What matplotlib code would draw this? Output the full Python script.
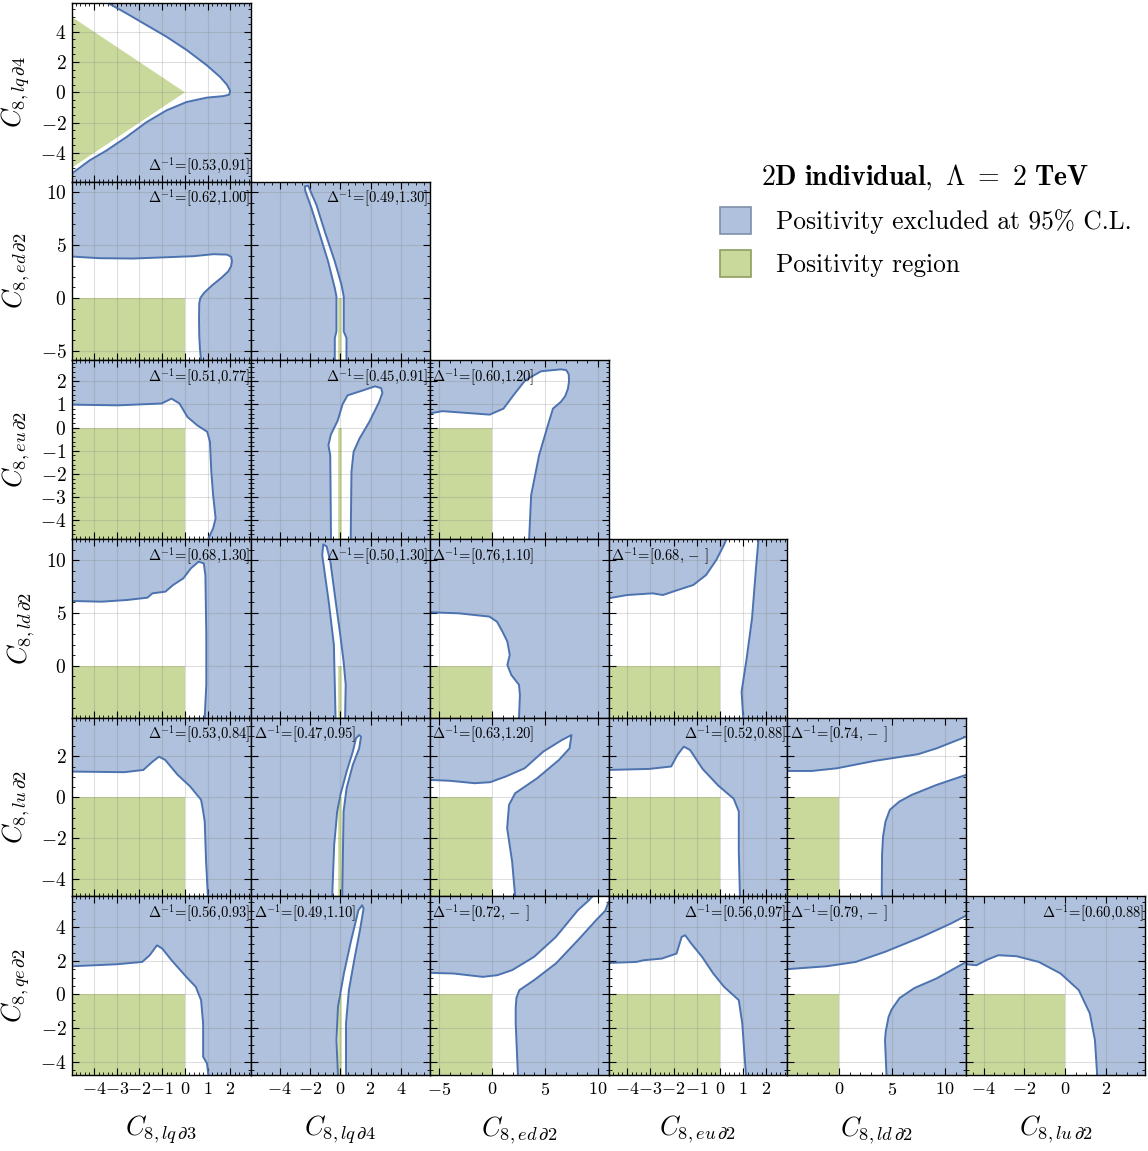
import numpy as np
import matplotlib.pyplot as plt
from matplotlib.patches import Polygon, Rectangle, Patch
from matplotlib.ticker import MultipleLocator, AutoMinorLocator

plt.rcParams.update({
    'font.family': 'serif', 'font.serif': ['cmr10'],
    'mathtext.fontset': 'cm', 'axes.formatter.use_mathtext': True,
    'axes.unicode_minus': True,
})

# operators (x: first six, y: last six), plot ranges, major tick steps
ops = [r'lq\,\partial 3', r'lq\,\partial 4', r'ed\,\partial 2', r'eu\,\partial 2',
       r'ld\,\partial 2', r'lu\,\partial 2', r'qe\,\partial 2']
lims = [(-4.97, 2.9), (-5.9, 5.9), (-5.9, 11.0), (-4.8, 2.9), (-4.9, 12.0),
        (-4.85, 3.9), (-4.8, 5.85)]
steps = [1, 2, 5, 1, 5, 2, 2]

# lower-triangle panels (row, col), row-major
panels = [(0, 0), (1, 0), (1, 1), (2, 0), (2, 1), (2, 2), (3, 0), (3, 1), (3, 2), (3, 3),
          (4, 0), (4, 1), (4, 2), (4, 3), (4, 4), (5, 0), (5, 1), (5, 2), (5, 3), (5, 4), (5, 5)]
delta_lo = [0.53, 0.62, 0.49, 0.51, 0.45, 0.60, 0.68, 0.50, 0.76, 0.68,
            0.53, 0.47, 0.63, 0.52, 0.74, 0.56, 0.49, 0.72, 0.56, 0.79, 0.60]
delta_hi = [0.91, 1.00, 1.30, 0.77, 0.91, 1.20, 1.30, 1.30, 1.10, None,
            0.84, 0.95, 1.20, 0.88, None, 0.93, 1.10, None, 0.97, None, 0.88]
label_pos = ['br', 'tr', 'tr', 'tr', 'tr', 'tl', 'tr', 'tr', 'tl', 'tl',
             'tr', 'tl', 'tl', 'tr', 'tl', 'tr', 'tl', 'tl', 'tr', 'tl', 'tr']

# boundaries of the allowed (not excluded) region
bd_lq4_lq3 = [(-3.39, 5.9), (-2.58, 5.22), (-1.69, 4.44), (-0.81, 3.67), (0.08, 2.79), (0.96, 1.79),
              (1.55, 1.01), (1.85, 0.5), (1.99, 0.1), (1.95, -0.15), (1.69, -0.25), (0.96, -0.35),
              (0.07, -0.64), (-0.81, -1.19), (-1.69, -1.97), (-2.58, -2.96), (-3.46, -3.85),
              (-4.2, -4.5), (-5.0, -5.39)]
bd_ed2_lq3 = [(-5.0, 3.92), (-3.76, 3.76), (-2.29, 3.73), (-0.81, 3.85), (0.37, 3.95), (1.25, 4.14),
              (1.85, 4.1), (2.03, 3.9), (2.07, 3.5), (2.03, 3.0), (1.9, 2.5), (1.6, 1.9), (1.2, 1.2),
              (0.85, 0.5), (0.68, 0.0), (0.63, -0.5), (0.62, -1.97), (0.63, -3.54), (0.66, -4.8),
              (0.71, -5.9)]
bd_ed2_lq4 = [(-0.36, -5.9), (-0.36, -3.79), (-0.25, -3.16), (-0.25, 0.14), (-0.36, 0.93), (-0.8, 3.45),
              (-1.35, 6.0), (-1.9, 8.5), (-2.3, 10.1), (-2.34, 10.55), (-2.12, 10.62), (-1.57, 8.8),
              (-1.02, 6.28), (-0.36, 3.45), (0.08, 1.25), (0.23, 0.14), (0.23, -3.16), (0.41, -3.79),
              (0.41, -5.9)]
bd_eu2_lq3 = [(-5.0, 0.99), (-2.94, 0.96), (-1.03, 1.04), (-0.59, 1.25), (-0.24, 1.04), (0.11, 0.46),
              (0.54, 0.1), (0.98, -0.18), (1.1, -0.61), (1.16, -1.9), (1.24, -2.91), (1.35, -3.91),
              (1.24, -4.34), (1.07, -4.7), (1.03, -4.8)]
bd_eu2_lq4 = [(-0.61, -4.8), (-0.66, -1.19), (-0.78, -0.76), (-0.62, -0.3), (-0.17, 0.3), (0.15, 1.0),
              (0.48, 1.39), (1.52, 1.61), (2.3, 1.78), (2.7, 1.7), (2.78, 1.5), (2.57, 1.11),
              (1.92, 0.25), (1.27, -0.47), (0.88, -1.04), (0.74, -1.9), (0.69, -4.8)]
bd_eu2_ed2 = [(-5.9, 0.61), (-4.7, 0.71), (-1.72, 0.61), (-0.23, 0.56), (1.08, 0.82), (2.01, 1.39),
              (3.13, 2.04), (4.63, 2.43), (6.5, 2.51), (7.0, 2.48), (7.24, 2.3), (7.27, 2.0),
              (7.17, 1.68), (6.9, 1.35), (6.5, 1.11), (5.75, 0.82), (5.18, -0.04), (4.44, -1.19),
              (3.69, -2.91), (3.5, -4.8)]
bd_ld2_lq3 = [(-5.0, 6.14), (-3.67, 6.07), (-2.55, 6.23), (-1.65, 6.45), (-1.43, 6.86), (-0.86, 7.02),
              (-0.52, 7.65), (-0.07, 8.28), (0.26, 9.22), (0.6, 9.85), (0.83, 9.7), (0.9, 8.59),
              (0.94, 2.93), (0.94, -1.79), (0.87, -4.9)]
bd_ld2_lq4 = [(-0.31, -4.9), (-0.42, 1.98), (-0.76, 6.07), (-1.19, 10.48), (-1.12, 11.49), (-0.9, 11.3),
              (-0.65, 9.85), (-0.3, 6.07), (0.0, 2.93), (0.22, 0.41), (0.36, -1.79), (0.32, -4.9)]
bd_ld2_ed2 = [(-5.9, 5.07), (-3.15, 4.97), (-0.26, 4.66), (0.46, 4.18), (1.0, 3.2), (1.44, 2.3),
              (1.67, 1.04), (1.44, 0.09), (1.81, -0.85), (2.54, -1.79), (2.63, -2.74), (2.54, -4.9)]
bd_ld2_eu2_a = [(-4.8, 6.39), (-4.0, 6.7), (-2.9, 6.86), (-2.46, 6.7), (-1.81, 7.18), (-1.15, 7.65),
                (-0.6, 8.59), (-0.16, 10.01), (0.17, 11.43), (0.28, 12.0)]
bd_ld2_eu2_b = [(1.66, 12.0), (1.55, 9.22), (1.38, 4.5), (1.15, 0.73), (0.93, -2.43), (1.0, -4.9)]
bd_lu2_lq3 = [(-5.0, 1.26), (-2.66, 1.23), (-1.83, 1.34), (-1.42, 1.75), (-1.14, 1.99), (-0.87, 1.83),
              (-0.32, 1.1), (0.23, 0.53), (0.71, -0.12), (0.79, -0.61), (0.87, -1.18), (0.93, -3.14),
              (1.01, -4.85)]
bd_lu2_lq4 = [(-0.53, -4.85), (-0.4, -2.32), (-0.2, -0.69), (0.01, 0.12), (0.42, 1.26), (0.83, 2.24),
              (1.04, 2.89), (1.25, 3.05), (1.37, 2.97), (1.25, 2.4), (0.83, 1.59), (0.42, 0.45),
              (0.22, -0.69), (0.13, -4.85)]
bd_lu2_ed2 = [(-5.9, 0.85), (-4.01, 0.81), (-1.65, 0.69), (-0.18, 0.74), (1.3, 1.02), (3.07, 1.42),
              (4.84, 2.24), (6.61, 2.81), (7.5, 3.05), (7.32, 2.4), (6.32, 1.83), (4.25, 0.93),
              (2.18, 0.2), (1.6, -0.37), (1.42, -1.51), (1.89, -3.14), (2.18, -4.85)]
bd_lu2_eu2 = [(-4.8, 1.34), (-3.04, 1.39), (-2.1, 1.51), (-1.83, 2.08), (-1.56, 2.48), (-1.29, 2.32),
              (-0.75, 1.39), (-0.08, 0.58), (0.59, -0.07), (0.81, -0.69), (0.81, -2.65), (0.86, -4.85)]
bd_lu2_ld2_a = [(-4.9, 1.29), (-2.59, 1.29), (-0.23, 1.42), (3.31, 1.78), (7.45, 2.11), (9.22, 2.4),
                (12.0, 2.97)]
bd_lu2_ld2_b = [(12.0, 1.1), (9.22, 0.61), (6.86, 0.12), (5.68, -0.21), (4.79, -0.61), (4.38, -1.18),
                (4.15, -1.9), (4.05, -2.8), (4.02, -4.85)]
bd_qe2_lq3 = [(-5.0, 1.68), (-3.01, 1.8), (-1.88, 1.94), (-1.55, 2.34), (-1.23, 2.93), (-1.0, 2.74),
              (-0.59, 2.04), (0.06, 1.05), (0.48, 0.45), (0.71, -0.34), (0.8, -1.73), (0.8, -3.71),
              (0.97, -4.11), (1.03, -4.8)]
bd_qe2_lq4 = [(-0.15, -4.8), (-0.25, -2.72), (-0.15, -0.74), (0.24, 1.25), (0.72, 3.23), (1.2, 5.02),
              (1.44, 5.32), (1.54, 5.12), (1.3, 3.83), (0.96, 2.24), (0.57, 0.26), (0.38, -1.73), (0.38, -4.8)]
bd_qe2_ed2_a = [(-5.9, 1.29), (-3.64, 1.25), (-0.88, 1.05), (0.5, 1.15), (1.89, 1.45), (3.96, 2.24),
                (6.03, 3.43), (8.1, 5.02), (9.14, 5.61), (9.49, 5.85)]
bd_qe2_ed2_b = [(11.0, 5.5), (10.7, 5.0), (9.83, 4.43), (8.1, 3.23), (6.03, 1.85), (3.96, 0.85),
                (2.58, 0.26), (2.3, -0.2), (2.23, -0.8), (2.23, -1.73), (2.44, -4.8)]
bd_qe2_eu2 = [(-4.8, 1.88), (-3.6, 1.94), (-3.29, 2.04), (-2.5, 2.14), (-1.87, 2.44), (-1.65, 3.43),
              (-1.5, 3.53), (-1.24, 3.04), (-0.77, 2.24), (-0.29, 1.25), (0.18, 0.45), (0.81, -0.34),
              (0.96, -1.73), (1.06, -3.71), (1.12, -4.8)]
bd_qe2_ld2_a = [(-4.9, 1.51), (-1.2, 1.68), (1.57, 1.94), (4.33, 2.54), (7.79, 3.43), (10.56, 4.23),
                (12.0, 4.7)]
bd_qe2_ld2_b = [(12.0, 1.94), (9.18, 0.95), (7.1, 0.38), (5.71, -0.21), (4.95, -0.9), (4.67, -1.33),
                (4.4, -2.2), (4.33, -2.72), (4.47, -4.8)]
bd_qe2_lu2 = [(-4.85, 1.8), (-4.35, 1.74), (-3.81, 2.08), (-3.27, 2.34), (-2.38, 2.28), (-1.3, 1.94),
              (-0.23, 1.25), (0.66, 0.26), (1.2, -1.13), (1.45, -2.72), (1.56, -4.8)]

# curves + frame corners ('tl', 'tr', 'bl') that close each allowed region
regions = {
    (0, 0): [bd_lq4_lq3, 'tl'],
    (1, 0): [bd_ed2_lq3, 'bl'], (1, 1): [bd_ed2_lq4],
    (2, 0): [bd_eu2_lq3, 'bl'], (2, 1): [bd_eu2_lq4], (2, 2): [bd_eu2_ed2, 'bl'],
    (3, 0): [bd_ld2_lq3, 'bl'], (3, 1): [bd_ld2_lq4], (3, 2): [bd_ld2_ed2, 'bl'],
    (3, 3): [bd_ld2_eu2_a, bd_ld2_eu2_b, 'bl'],
    (4, 0): [bd_lu2_lq3, 'bl'], (4, 1): [bd_lu2_lq4], (4, 2): [bd_lu2_ed2, 'bl'],
    (4, 3): [bd_lu2_eu2, 'bl'], (4, 4): [bd_lu2_ld2_a, bd_lu2_ld2_b, 'bl'],
    (5, 0): [bd_qe2_lq3, 'bl'], (5, 1): [bd_qe2_lq4], (5, 2): [bd_qe2_ed2_a, 'tr', bd_qe2_ed2_b, 'bl'],
    (5, 3): [bd_qe2_eu2, 'bl'], (5, 4): [bd_qe2_ld2_a, bd_qe2_ld2_b, 'bl'], (5, 5): [bd_qe2_lu2, 'bl'],
}

BLUE, LINE = '#AFC1DC', '#4C72B0'
GREEN = '#C9D89B'

fig = plt.figure(figsize=(11.48, 11.51), dpi=100)
gs = fig.add_gridspec(6, 6, left=72/1148, right=1145/1148, bottom=1-1075/1151, top=1-3/1151,
                      wspace=0, hspace=0)

for k, (i, j) in enumerate(panels):
    ax = fig.add_subplot(gs[i, j])
    xl, yl = lims[j], lims[i + 1]
    ax.set_xlim(xl); ax.set_ylim(yl)
    ax.set_facecolor(BLUE)

    pts = []
    for item in regions[(i, j)]:
        if isinstance(item, str):
            pts.append((xl[0] if item[1] == 'l' else xl[1], yl[0] if item[0] == 'b' else yl[1]))
        else:
            pts.extend(item)
    ax.add_patch(Polygon(pts, closed=True, fc='white', ec='none', zorder=1))
    for item in regions[(i, j)]:
        if not isinstance(item, str):
            c = np.array(item)
            ax.plot(c[:, 0], c[:, 1], color=LINE, lw=1.4, zorder=2)

    # positivity region
    if (i, j) == (0, 0):
        ax.add_patch(Polygon([(0, 0), (xl[0], -xl[0]), (xl[0], xl[0])], fc=GREEN, ec='none', zorder=1.2))
    elif j == 1:
        ax.plot([0, 0], [yl[0], 0], color=GREEN, lw=2.6, solid_capstyle='butt', zorder=1.2)
    else:
        ax.add_patch(Rectangle((xl[0], yl[0]), -xl[0], -yl[0], fc=GREEN, ec='none', zorder=1.2))

    ax.xaxis.set_major_locator(MultipleLocator(steps[j]))
    ax.yaxis.set_major_locator(MultipleLocator(steps[i + 1]))
    ax.xaxis.set_minor_locator(AutoMinorLocator())
    ax.yaxis.set_minor_locator(AutoMinorLocator())
    ax.grid(True, which='major', color='0.5', alpha=0.25, lw=0.8)
    ax.set_axisbelow('line')
    ax.tick_params(which='both', direction='in', top=True, right=True,
                   labelbottom=(i == 5), labelleft=(j == 0), pad=4)
    ax.tick_params(axis='x', labelsize=13)
    ax.tick_params(axis='y', labelsize=14)
    ax.tick_params(which='major', length=5)
    ax.tick_params(which='minor', length=2.5)
    for s in ax.spines.values():
        s.set_linewidth(1.0)

    hi = f'{delta_hi[k]:.2f}' if delta_hi[k] is not None else r' $-$ '
    txt = r'$\Delta^{-1}$' + f'=[{delta_lo[k]:.2f},{hi}]'
    pos = label_pos[k]
    tx, ha = (0.995, 'right') if pos[1] == 'r' else (0.015, 'left')
    ty = 0.085 if pos[0] == 'b' else 0.905
    ax.text(tx, ty, txt, transform=ax.transAxes, ha=ha, va='center', fontsize=10.5, zorder=3)

    if j == 0:
        ax.set_ylabel(rf'$C_{{8,{ops[i + 1]}}}$', fontsize=19, labelpad=6)
    if i == 5:
        ax.set_xlabel(rf'$C_{{8,{ops[j]}}}$', fontsize=19, labelpad=12)

handles = [Patch(fc=BLUE, ec='#7F8FA8', lw=1.2, label='Positivity excluded at 95% C.L.'),
           Patch(fc=GREEN, ec='#8E9E60', lw=1.2, label='Positivity region')]
fig.legend(handles=handles, title=r'$\mathbf{2D\ individual,\ \Lambda\ =\ 2\ TeV}$',
           loc='upper left', bbox_to_anchor=(707/1148, 1 - 150/1151), frameon=False,
           fontsize=18.3, title_fontsize=20, handlelength=1.25, handleheight=1.25,
           labelspacing=0.6, handletextpad=0.95, borderpad=0)

fig.savefig('out.png', dpi=100)
